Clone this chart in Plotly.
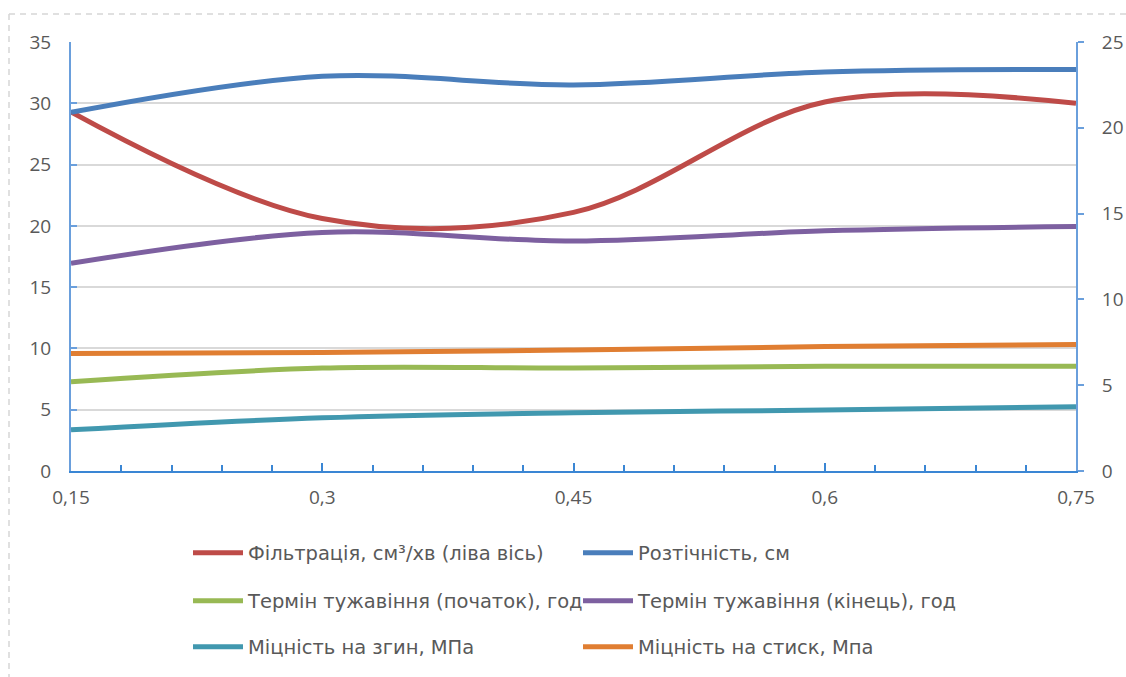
import plotly.graph_objects as go

# W/C ratio (x axis)
ratio = [0.15, 0.3, 0.45, 0.6, 0.75]

# Series values
filtration = [29.3, 20.6, 21.1, 30.1, 30.0]     # left axis
spread = [20.9, 23.0, 22.5, 23.25, 23.4]        # right axis
set_start = [5.2, 6.0, 6.0, 6.1, 6.1]
set_end = [12.1, 13.9, 13.4, 14.0, 14.25]
bend_strength = [2.4, 3.1, 3.4, 3.55, 3.75]
comp_strength = [6.85, 6.9, 7.05, 7.25, 7.37]

names = [
    "Фільтрація, см³/хв (ліва вісь)",
    "Розтічність, см",
    "Термін тужавіння (початок), год",
    "Термін тужавіння (кінець), год",
    "Міцність на згин, МПа",
    "Міцність на стиск, Мпа",
]
x_tick_vals = [0.15, 0.3, 0.45, 0.6, 0.75]
x_tick_text = ["0,15", "0,3", "0,45", "0,6", "0,75"]

W, H = 1126, 677
FONT = "Open Sans"
LEGEND_FONT = "DejaVu Sans"
TXT = "#595959"

series = [
    (filtration, "#BE4B48", "y"),
    (spread, "#4A7EBB", "y2"),
    (set_start, "#98B954", "y2"),
    (set_end, "#7D60A0", "y2"),
    (bend_strength, "#4198AF", "y2"),
    (comp_strength, "#E07E32", "y2"),
]

fig = go.Figure()
legend_ids = ["legend", "legend2", "legend3", "legend4", "legend5", "legend6"]
for i, ((vals, color, yax), name) in enumerate(zip(series, names)):
    fig.add_trace(go.Scatter(
        x=ratio, y=vals, name=name, mode="lines",
        line=dict(color=color, width=5, shape="spline", smoothing=1.0),
        yaxis=yax, legend=legend_ids[i], hoverinfo="skip",
    ))

# two-column legend, one legend box per entry
col_x = [188, 578]
row_y = [553, 601, 647]
legend_cfg = {}
for i, lid in enumerate(legend_ids):
    legend_cfg[lid] = dict(
        xref="container", yref="container",
        x=col_x[i % 2] / W, y=1 - row_y[i // 2] / H,
        xanchor="left", yanchor="middle",
        bgcolor="rgba(0,0,0,0)", borderwidth=0,
        font=dict(family=LEGEND_FONT, size=19.5, color=TXT),
        itemwidth=50,
    )

# plot area in pixels
PL, PR, PT, PB = 71, 1076, 42, 471

def px2paper_x(px):
    return (px - PL) / (PR - PL)

def px2paper_y(py):
    return (PB - py) / (PB - PT)

# left/top dashed frame of the chart area
frame = [
    dict(type="line", xref="paper", yref="paper",
         x0=px2paper_x(9), x1=px2paper_x(1130), y0=px2paper_y(14), y1=px2paper_y(14),
         line=dict(color="#d6d6d6", width=1.5, dash="6px,5px")),
    dict(type="line", xref="paper", yref="paper",
         x0=px2paper_x(9), x1=px2paper_x(9), y0=px2paper_y(14), y1=px2paper_y(680),
         line=dict(color="#d6d6d6", width=1.5, dash="6px,5px")),
]

fig.update_layout(
    width=W, height=H,
    margin=dict(l=PL, r=W - PR, t=PT, b=H - PB, autoexpand=False),
    paper_bgcolor="white", plot_bgcolor="white",
    font=dict(family=FONT, size=19, color=TXT),
    separators=", ",
    showlegend=True,
    shapes=frame,
    xaxis=dict(
        range=[0.15, 0.75], tickvals=x_tick_vals, ticktext=x_tick_text,
        showgrid=False, zeroline=False,
        showline=True, linecolor="#3A86D4", linewidth=2,
        ticks="inside", ticklen=8, tickwidth=2, tickcolor="#3A86D4",
        minor=dict(dtick=0.03, tick0=0.15, ticks="inside", ticklen=6,
                   tickwidth=2, tickcolor="#3A86D4", showgrid=False),
        tickfont=dict(family=FONT, size=19, color=TXT),
        ticklabelstandoff=8,
    ),
    yaxis=dict(
        range=[0, 35], dtick=5, tick0=0,
        showgrid=True, gridcolor="#d9d9d9", gridwidth=1.5,
        zeroline=False,
        showline=True, linecolor="#6A9FDC", linewidth=2,
        ticks="inside", ticklen=6, tickwidth=2, tickcolor="#6A9FDC",
        tickfont=dict(family=FONT, size=19, color=TXT),
        ticklabelstandoff=14,
    ),
    yaxis2=dict(
        range=[0, 25], dtick=5, tick0=0, overlaying="y", side="right",
        showgrid=False, zeroline=False,
        showline=True, linecolor="#6A9FDC", linewidth=2,
        ticks="outside", ticklen=6, tickwidth=2, tickcolor="#6A9FDC",
        tickfont=dict(family=FONT, size=19, color=TXT),
        ticklabelstandoff=14,
    ),
    **legend_cfg,
)

fig.write_html("out.html")
